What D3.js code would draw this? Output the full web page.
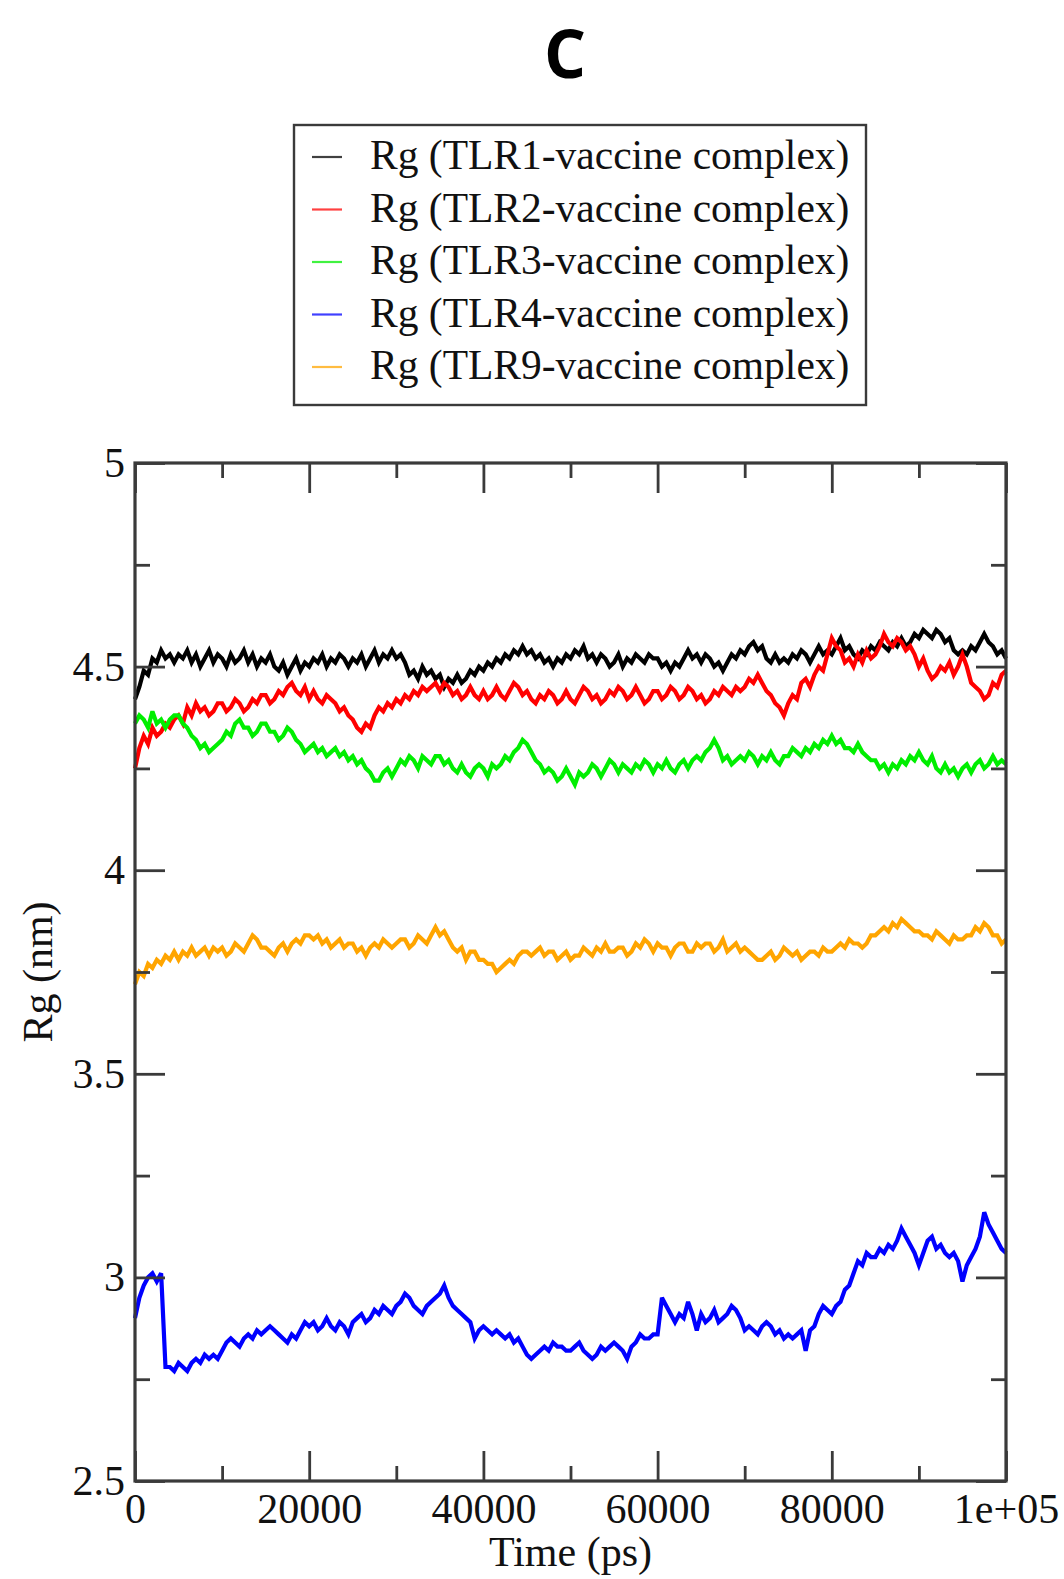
<!DOCTYPE html>
<html>
<head>
<meta charset="utf-8">
<script src="https://cdn.jsdelivr.net/npm/d3@7"></script>
<style>
  html, body { margin: 0; padding: 0; background: #fff; }
  svg { display: block; }
</style>
</head>
<body>
<svg id="chart" width="1064" height="1579"></svg>
<script>
// Radius of gyration over a 100 ns run, sampled every 500 ps.
const TIME_STEP = 500;

const seriesNames = [
  "Rg (TLR1-vaccine complex)",
  "Rg (TLR2-vaccine complex)",
  "Rg (TLR3-vaccine complex)",
  "Rg (TLR4-vaccine complex)",
  "Rg (TLR9-vaccine complex)"
];
const seriesColors = ["#000000", "#ff0000", "#00ee00", "#0000ff", "#ffa500"];

const rgTLR1 = [
  4.42, 4.45, 4.49, 4.48, 4.52, 4.51, 4.54, 4.52, 4.53, 4.51,
  4.53, 4.52, 4.54, 4.51, 4.53, 4.50, 4.52, 4.54, 4.51, 4.53,
  4.52, 4.50, 4.53, 4.51, 4.52, 4.54, 4.51, 4.53, 4.50, 4.52,
  4.51, 4.53, 4.50, 4.49, 4.51, 4.48, 4.50, 4.52, 4.49, 4.51,
  4.50, 4.52, 4.51, 4.53, 4.50, 4.52, 4.51, 4.53, 4.52, 4.50,
  4.52, 4.51, 4.53, 4.50, 4.52, 4.54, 4.51, 4.53, 4.52, 4.54,
  4.52, 4.53, 4.51, 4.48, 4.49, 4.47, 4.50, 4.48, 4.49, 4.47,
  4.48, 4.45, 4.47, 4.46, 4.48, 4.46, 4.47, 4.49, 4.48, 4.50,
  4.49, 4.51, 4.50, 4.52, 4.51, 4.53, 4.52, 4.54, 4.53, 4.55,
  4.53, 4.54, 4.52, 4.53, 4.51, 4.52, 4.50, 4.52, 4.51, 4.53,
  4.52, 4.54, 4.53, 4.55, 4.52, 4.53, 4.51, 4.53, 4.52, 4.50,
  4.51, 4.53, 4.50, 4.52, 4.51, 4.53, 4.52, 4.51, 4.53, 4.52,
  4.52, 4.50, 4.51, 4.49, 4.51, 4.50, 4.52, 4.54, 4.52, 4.53,
  4.51, 4.53, 4.52, 4.50, 4.51, 4.49, 4.51, 4.53, 4.52, 4.54,
  4.53, 4.55, 4.56, 4.54, 4.55, 4.52, 4.51, 4.53, 4.51, 4.52,
  4.51, 4.53, 4.52, 4.54, 4.53, 4.51, 4.53, 4.55, 4.53, 4.54,
  4.53, 4.55, 4.57, 4.54, 4.55, 4.53, 4.52, 4.54, 4.53, 4.55,
  4.54, 4.56, 4.55, 4.54, 4.56, 4.55, 4.57, 4.55, 4.56, 4.58,
  4.57, 4.59, 4.58, 4.57, 4.59, 4.58, 4.56, 4.57, 4.54, 4.53,
  4.54, 4.53, 4.55, 4.54, 4.56, 4.58, 4.56, 4.55, 4.53, 4.54,
  4.52
];

const rgTLR2 = [
  4.25, 4.30, 4.33, 4.31, 4.35, 4.33, 4.34, 4.36, 4.35, 4.37,
  4.38, 4.36, 4.40, 4.38, 4.41, 4.39, 4.40, 4.38, 4.39, 4.41,
  4.41, 4.39, 4.40, 4.42, 4.41, 4.39, 4.40, 4.42, 4.41, 4.43,
  4.43, 4.41, 4.42, 4.44, 4.43, 4.45, 4.46, 4.44, 4.43, 4.45,
  4.42, 4.44, 4.42, 4.41, 4.43, 4.42, 4.41, 4.39, 4.40, 4.38,
  4.37, 4.35, 4.34, 4.36, 4.35, 4.38, 4.40, 4.39, 4.41, 4.40,
  4.42, 4.41, 4.43, 4.42, 4.44, 4.43, 4.45, 4.44, 4.45, 4.46,
  4.44, 4.46, 4.45, 4.43, 4.44, 4.42, 4.43, 4.45, 4.43, 4.42,
  4.44, 4.42, 4.43, 4.45, 4.43, 4.42, 4.44, 4.46, 4.45, 4.43,
  4.44, 4.42, 4.41, 4.43, 4.42, 4.44, 4.43, 4.41, 4.42, 4.44,
  4.42, 4.41, 4.43, 4.45, 4.44, 4.42, 4.43, 4.41, 4.42, 4.44,
  4.43, 4.45, 4.44, 4.42, 4.43, 4.45, 4.43, 4.41, 4.42, 4.44,
  4.44, 4.42, 4.43, 4.45, 4.44, 4.42, 4.43, 4.45, 4.44, 4.42,
  4.43, 4.41, 4.42, 4.44, 4.43, 4.45, 4.44, 4.43, 4.45, 4.44,
  4.45, 4.47, 4.46, 4.48, 4.46, 4.44, 4.43, 4.41, 4.40, 4.38,
  4.41, 4.43, 4.42, 4.46, 4.47, 4.45, 4.48, 4.50, 4.49, 4.53,
  4.57, 4.55, 4.54, 4.51, 4.52, 4.50, 4.53, 4.51, 4.54, 4.52,
  4.53, 4.55, 4.58, 4.56, 4.55, 4.57, 4.56, 4.54, 4.55, 4.53,
  4.50, 4.52, 4.49, 4.47, 4.48, 4.50, 4.49, 4.51, 4.48, 4.50,
  4.53, 4.50, 4.46, 4.45, 4.44, 4.42, 4.43, 4.46, 4.45, 4.48,
  4.49
];

const rgTLR3 = [
  4.36, 4.38, 4.37, 4.35, 4.39, 4.36, 4.37, 4.35, 4.37, 4.38,
  4.38, 4.36, 4.35, 4.33, 4.32, 4.30, 4.31, 4.29, 4.30, 4.31,
  4.32, 4.34, 4.33, 4.36, 4.37, 4.35, 4.35, 4.33, 4.34, 4.36,
  4.36, 4.34, 4.34, 4.32, 4.33, 4.35, 4.34, 4.32, 4.31, 4.29,
  4.30, 4.31, 4.29, 4.30, 4.28, 4.29, 4.30, 4.28, 4.29, 4.27,
  4.28, 4.26, 4.27, 4.25, 4.24, 4.22, 4.22, 4.24, 4.25, 4.23,
  4.25, 4.27, 4.26, 4.28, 4.27, 4.25, 4.28, 4.27, 4.26, 4.28,
  4.28, 4.26, 4.27, 4.25, 4.24, 4.26, 4.24, 4.23, 4.25, 4.26,
  4.25, 4.23, 4.26, 4.25, 4.26, 4.28, 4.27, 4.29, 4.30, 4.32,
  4.31, 4.29, 4.27, 4.26, 4.24, 4.25, 4.24, 4.22, 4.23, 4.25,
  4.23, 4.21, 4.24, 4.23, 4.24, 4.26, 4.25, 4.23, 4.25, 4.27,
  4.26, 4.24, 4.26, 4.25, 4.24, 4.26, 4.25, 4.27, 4.26, 4.24,
  4.26, 4.25, 4.27, 4.25, 4.24, 4.26, 4.27, 4.25, 4.27, 4.28,
  4.27, 4.29, 4.30, 4.32, 4.30, 4.27, 4.28, 4.26, 4.27, 4.28,
  4.27, 4.29, 4.28, 4.26, 4.28, 4.27, 4.29, 4.27, 4.26, 4.28,
  4.28, 4.30, 4.29, 4.28, 4.30, 4.29, 4.31, 4.30, 4.32, 4.31,
  4.33, 4.31, 4.32, 4.30, 4.30, 4.29, 4.31, 4.29, 4.28, 4.27,
  4.27, 4.25, 4.26, 4.24, 4.26, 4.25, 4.27, 4.26, 4.28, 4.27,
  4.29, 4.27, 4.26, 4.28, 4.25, 4.24, 4.26, 4.24, 4.25, 4.23,
  4.25, 4.26, 4.24, 4.26, 4.27, 4.25, 4.26, 4.28, 4.26, 4.27,
  4.26
];

const rgTLR4 = [
  2.90, 2.95, 2.98, 3.00, 3.01, 2.99, 3.01, 2.78, 2.78, 2.77,
  2.79, 2.78, 2.77, 2.79, 2.80, 2.79, 2.81, 2.80, 2.81, 2.80,
  2.82, 2.84, 2.85, 2.84, 2.83, 2.85, 2.86, 2.85, 2.87, 2.86,
  2.87, 2.88, 2.87, 2.86, 2.85, 2.84, 2.86, 2.85, 2.87, 2.89,
  2.88, 2.89, 2.87, 2.88, 2.90, 2.88, 2.87, 2.89, 2.88, 2.86,
  2.89, 2.90, 2.91, 2.89, 2.90, 2.92, 2.91, 2.93, 2.92, 2.91,
  2.93, 2.94, 2.96, 2.95, 2.93, 2.92, 2.91, 2.93, 2.94, 2.95,
  2.96, 2.98, 2.95, 2.93, 2.92, 2.91, 2.90, 2.89, 2.85, 2.87,
  2.88, 2.87, 2.86, 2.87, 2.86, 2.85, 2.86, 2.84, 2.85, 2.83,
  2.81, 2.80, 2.81, 2.82, 2.83, 2.82, 2.84, 2.83, 2.83, 2.82,
  2.82, 2.83, 2.84, 2.82, 2.81, 2.80, 2.81, 2.83, 2.82, 2.83,
  2.84, 2.83, 2.82, 2.80, 2.83, 2.84, 2.86, 2.85, 2.85, 2.86,
  2.86, 2.95, 2.93, 2.91, 2.89, 2.91, 2.90, 2.94, 2.91, 2.87,
  2.91, 2.89, 2.90, 2.92, 2.89, 2.90, 2.91, 2.93, 2.92, 2.90,
  2.87, 2.88, 2.87, 2.86, 2.88, 2.89, 2.88, 2.86, 2.87, 2.85,
  2.86, 2.85, 2.86, 2.87, 2.82, 2.87, 2.88, 2.91, 2.93, 2.92,
  2.91, 2.93, 2.94, 2.97, 2.98, 3.01, 3.04, 3.03, 3.06, 3.05,
  3.05, 3.07, 3.06, 3.08, 3.07, 3.09, 3.12, 3.10, 3.08, 3.06,
  3.03, 3.06, 3.09, 3.10, 3.07, 3.08, 3.06, 3.05, 3.06, 3.04,
  2.99, 3.03, 3.05, 3.07, 3.10, 3.16, 3.13, 3.11, 3.09, 3.07,
  3.06
];

const rgTLR9 = [
  3.72, 3.75, 3.74, 3.77, 3.76, 3.78, 3.77, 3.79, 3.78, 3.80,
  3.78, 3.80, 3.79, 3.81, 3.79, 3.80, 3.81, 3.79, 3.81, 3.80,
  3.81, 3.79, 3.80, 3.82, 3.81, 3.80, 3.82, 3.84, 3.83, 3.81,
  3.81, 3.80, 3.79, 3.81, 3.82, 3.80, 3.82, 3.83, 3.82, 3.84,
  3.84, 3.83, 3.84, 3.82, 3.83, 3.81, 3.82, 3.83, 3.81, 3.82,
  3.82, 3.80, 3.81, 3.79, 3.81, 3.82, 3.81, 3.83, 3.82, 3.81,
  3.82, 3.83, 3.83, 3.81, 3.82, 3.84, 3.83, 3.82, 3.84, 3.86,
  3.84, 3.85, 3.83, 3.81, 3.80, 3.81, 3.78, 3.80, 3.80, 3.78,
  3.78, 3.77, 3.77, 3.75, 3.76, 3.77, 3.78, 3.77, 3.79, 3.80,
  3.80, 3.79, 3.80, 3.81, 3.79, 3.80, 3.80, 3.78, 3.79, 3.80,
  3.78, 3.79, 3.79, 3.81, 3.80, 3.79, 3.81, 3.80, 3.82, 3.80,
  3.80, 3.81, 3.81, 3.79, 3.80, 3.82, 3.81, 3.83, 3.82, 3.80,
  3.82, 3.81, 3.81, 3.79, 3.81, 3.82, 3.82, 3.80, 3.80, 3.82,
  3.81, 3.82, 3.82, 3.80, 3.81, 3.83, 3.80, 3.81, 3.82, 3.80,
  3.81, 3.80, 3.79, 3.78, 3.78, 3.79, 3.80, 3.78, 3.79, 3.81,
  3.80, 3.79, 3.80, 3.78, 3.79, 3.80, 3.80, 3.79, 3.81, 3.80,
  3.80, 3.81, 3.82, 3.81, 3.83, 3.82, 3.82, 3.81, 3.82, 3.84,
  3.84, 3.85, 3.86, 3.85, 3.87, 3.86, 3.88, 3.87, 3.86, 3.85,
  3.85, 3.84, 3.84, 3.83, 3.85, 3.84, 3.83, 3.82, 3.84, 3.83,
  3.83, 3.84, 3.84, 3.86, 3.85, 3.87, 3.86, 3.84, 3.84, 3.82,
  3.83
];

const seriesValues = [rgTLR1, rgTLR2, rgTLR3, rgTLR4, rgTLR9];

const xMajorTicks = [0, 20000, 40000, 60000, 80000, 100000];
const xTickLabels = ["0", "20000", "40000", "60000", "80000", "1e+05"];
const xMinorTicks = [10000, 30000, 50000, 70000, 90000];
const yMajorTicks = [2.5, 3, 3.5, 4, 4.5, 5];
const yTickLabels = ["2.5", "3", "3.5", "4", "4.5", "5"];
const yMinorTicks = [2.75, 3.25, 3.75, 4.25, 4.75];

const panelTitle = "C";
const xAxisTitle = "Time (ps)";
const yAxisTitle = "Rg (nm)";

// ---- layout ----
const plot = { left: 135, top: 463, right: 1006, bottom: 1481 };
const serif = "'Liberation Serif', 'Times New Roman', Times, serif";
const frameColor = "#3a3a3a";

const svg = d3.select("#chart");

const x = d3.scaleLinear().domain([0, 100000]).range([plot.left, plot.right]);
const y = d3.scaleLinear().domain([2.5, 5]).range([plot.bottom, plot.top]);

// Title
svg.append("text")
  .attr("x", 565).attr("y", 78)
  .attr("text-anchor", "middle")
  .attr("font-family", "'Open Sans', 'Noto Sans', sans-serif")
  .attr("font-weight", 700)
  .attr("font-size", 66)
  .attr("fill", "#000")
  .text(panelTitle);

// Data traces (drawn in series order, later ones on top)
const line = d3.line()
  .x((d, i) => x(i * TIME_STEP))
  .y(d => y(d));

const traces = svg.append("g").attr("class", "traces");
seriesValues.forEach((vals, k) => {
  traces.append("path")
    .datum(vals)
    .attr("d", line)
    .attr("fill", "none")
    .attr("stroke", seriesColors[k])
    .attr("stroke-width", 4.2)
    .attr("stroke-linejoin", "miter")
    .attr("stroke-miterlimit", 3);
});

// Axes: ticks pointing inward on all four sides
function styleAxis(g) {
  g.select(".domain").remove();
  g.selectAll(".tick line").attr("stroke", frameColor).attr("stroke-width", 2.8);
  g.selectAll(".tick text")
    .attr("font-family", serif)
    .attr("font-size", 42)
    .attr("fill", "#111");
}

const MAJOR = 30, MINOR = 15;

svg.append("g")
  .attr("transform", `translate(0,${plot.bottom})`)
  .call(d3.axisBottom(x).tickValues(xMajorTicks)
    .tickFormat((d, i) => xTickLabels[i]).tickSizeInner(-MAJOR).tickSizeOuter(0).tickPadding(12))
  .call(styleAxis);
svg.append("g")
  .attr("transform", `translate(0,${plot.bottom})`)
  .call(d3.axisBottom(x).tickValues(xMinorTicks).tickFormat("").tickSizeInner(-MINOR).tickSizeOuter(0))
  .call(styleAxis);

svg.append("g")
  .attr("transform", `translate(0,${plot.top})`)
  .call(d3.axisTop(x).tickValues(xMajorTicks).tickFormat("").tickSizeInner(-MAJOR).tickSizeOuter(0))
  .call(styleAxis);
svg.append("g")
  .attr("transform", `translate(0,${plot.top})`)
  .call(d3.axisTop(x).tickValues(xMinorTicks).tickFormat("").tickSizeInner(-MINOR).tickSizeOuter(0))
  .call(styleAxis);

svg.append("g")
  .attr("transform", `translate(${plot.left},0)`)
  .call(d3.axisLeft(y).tickValues(yMajorTicks)
    .tickFormat((d, i) => yTickLabels[i]).tickSizeInner(-MAJOR).tickSizeOuter(0).tickPadding(10))
  .call(styleAxis);
svg.append("g")
  .attr("transform", `translate(${plot.left},0)`)
  .call(d3.axisLeft(y).tickValues(yMinorTicks).tickFormat("").tickSizeInner(-MINOR).tickSizeOuter(0))
  .call(styleAxis);

svg.append("g")
  .attr("transform", `translate(${plot.right},0)`)
  .call(d3.axisRight(y).tickValues(yMajorTicks).tickFormat("").tickSizeInner(-MAJOR).tickSizeOuter(0))
  .call(styleAxis);
svg.append("g")
  .attr("transform", `translate(${plot.right},0)`)
  .call(d3.axisRight(y).tickValues(yMinorTicks).tickFormat("").tickSizeInner(-MINOR).tickSizeOuter(0))
  .call(styleAxis);

// Plot frame
svg.append("rect")
  .attr("x", plot.left).attr("y", plot.top)
  .attr("width", plot.right - plot.left).attr("height", plot.bottom - plot.top)
  .attr("fill", "none")
  .attr("stroke", frameColor)
  .attr("stroke-width", 3.2);

// Axis titles
svg.append("text")
  .attr("x", (plot.left + plot.right) / 2).attr("y", 1566)
  .attr("text-anchor", "middle")
  .attr("font-family", serif).attr("font-size", 42).attr("fill", "#111")
  .text(xAxisTitle);

svg.append("text")
  .attr("transform", `translate(52,${(plot.top + plot.bottom) / 2}) rotate(-90)`)
  .attr("text-anchor", "middle")
  .attr("font-family", serif).attr("font-size", 42).attr("fill", "#111")
  .text(yAxisTitle);

// Legend
const legend = svg.append("g").attr("class", "legend");
legend.append("rect")
  .attr("x", 294).attr("y", 125)
  .attr("width", 572).attr("height", 280)
  .attr("fill", "#fff")
  .attr("stroke", frameColor)
  .attr("stroke-width", 2.4);

seriesNames.forEach((name, k) => {
  const cy = 157 + k * 52.5;
  legend.append("line")
    .attr("x1", 312).attr("x2", 342)
    .attr("y1", cy).attr("y2", cy)
    .attr("stroke", seriesColors[k])
    .attr("stroke-opacity", 0.75)
    .attr("stroke-width", 2.2);
  legend.append("text")
    .attr("x", 370).attr("y", cy + 12)
    .attr("font-family", serif).attr("font-size", 41.5).attr("fill", "#111")
    .text(name);
});
</script>
</body>
</html>
